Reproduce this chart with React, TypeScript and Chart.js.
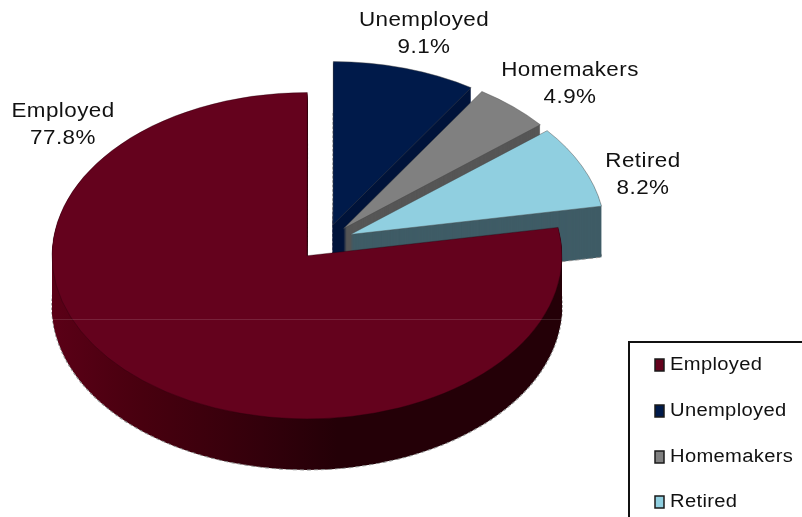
import React, { useEffect, useRef } from "react";
import { Chart, registerables } from "chart.js";

Chart.register(...registerables);

const categories = ["Employed", "Unemployed", "Homemakers", "Retired"];
const shares = [77.8, 9.1, 4.9, 8.2];
const explode = [28, 28, 28, 28];
const faceColors = ["#64021d", "#001a4a", "#808080", "#90cfe0"];
const wallColors = ["#3a0010", "#00133a", "#565656", "#3f5c66"];

// Back-to-front painting order of the slices.
const paintOrder = [1, 2, 3, 0];

const WIDTH = 802;
const HEIGHT = 517;
const PIE_X = 325;
const PIE_Y = 242;
const TILT = 0.64;
const DEPTH = 51;
const FONT = '"Liberation Sans", Arial, sans-serif';
const TEXT_STRETCH = 1.12;

const calloutAnchors = [
  { x: 63, y: 111 },
  { x: 424, y: 20 },
  { x: 570, y: 70 },
  { x: 643, y: 161 },
];
const legendRows = [365, 411, 457, 502];

// Draws text widened horizontally, keeping its anchor point in place.
function wideText(ctx: any, text: string, x: number, y: number) {
  ctx.save();
  ctx.translate(x, y);
  ctx.scale(TEXT_STRETCH, 1);
  ctx.fillText(text, 0, 0);
  ctx.restore();
}

const pie3d = {
  id: "pie3d",
  beforeDatasetDraw(chart: any) {
    const { ctx } = chart;
    const arcs = chart.getDatasetMeta(0).data;
    const paint = (arc: any, index: number, drop: number, overrides: any) => {
      const mid = (arc.startAngle + arc.endAngle) / 2;
      const copy = Object.create(arc);
      copy.options = { ...arc.options, ...overrides };
      ctx.save();
      ctx.translate(PIE_X, PIE_Y + drop);
      ctx.scale(1, TILT);
      ctx.translate(-arc.x, -arc.y);
      ctx.translate(Math.cos(mid) * explode[index], Math.sin(mid) * explode[index]);
      copy.draw(ctx);
      ctx.restore();
    };

    // The big slice's wall darkens from left to right, in arc coordinates.
    const shade = ctx.createLinearGradient(arcs[0].x - 272, 0, arcs[0].x + 30, 0);
    shade.addColorStop(0, "#5e0018");
    shade.addColorStop(0.35, "#48000f");
    shade.addColorStop(0.75, "#33000b");
    shade.addColorStop(1, "#240007");

    paintOrder.forEach((index) => {
      const arc = arcs[index];
      const wall = index === 0 ? shade : wallColors[index];
      paint(arc, index, DEPTH, {
        backgroundColor: wall,
        borderColor: "#8f8f8f",
        borderWidth: 1.5,
        borderDash: [4, 3],
      });
      for (let drop = DEPTH - 1; drop >= 1; drop--) {
        paint(arc, index, drop, { backgroundColor: wall, borderWidth: 0 });
      }
      paint(arc, index, 0, {
        backgroundColor: faceColors[index],
        borderColor: index === 0 ? "rgba(30,0,8,0.4)" : "rgba(70,70,70,0.55)",
        borderWidth: 1,
      });
    });

    // Faint horizontal seam across the big slice.
    ctx.save();
    ctx.strokeStyle = "rgba(255,255,255,0.13)";
    ctx.lineWidth = 1;
    ctx.beginPath();
    ctx.moveTo(53, 319.5);
    ctx.lineTo(562, 319.5);
    ctx.stroke();
    ctx.restore();

    return false;
  },
  afterDraw(chart: any) {
    const { ctx } = chart;
    const values = chart.data.datasets[0].data;
    ctx.save();
    ctx.fillStyle = "#111";
    ctx.textBaseline = "middle";

    // Slice callouts: name over percentage.
    ctx.textAlign = "center";
    ctx.font = `20px ${FONT}`;
    ctx.letterSpacing = "0.4px";
    chart.data.labels.forEach((label: string, i: number) => {
      const { x, y } = calloutAnchors[i];
      wideText(ctx, label, x, y);
      wideText(ctx, `${values[i].toFixed(1)}%`, x, y + 27);
    });

    // Legend box, running off the right and bottom edges.
    ctx.strokeStyle = "#111";
    ctx.lineWidth = 2;
    ctx.beginPath();
    ctx.moveTo(629, HEIGHT);
    ctx.lineTo(629, 342);
    ctx.lineTo(WIDTH, 342);
    ctx.stroke();

    ctx.textAlign = "left";
    ctx.font = `18px ${FONT}`;
    ctx.letterSpacing = "0.3px";
    chart.data.labels.forEach((label: string, i: number) => {
      const y = legendRows[i];
      ctx.fillStyle = faceColors[i];
      ctx.fillRect(655, y - 6, 9, 12);
      ctx.strokeStyle = "#1a1a1a";
      ctx.lineWidth = 1.5;
      ctx.strokeRect(655, y - 6, 9, 12);
      ctx.fillStyle = "#111";
      wideText(ctx, label, 670, y);
    });
    ctx.restore();
  },
};

export default function App() {
  const ref = useRef<HTMLCanvasElement>(null);
  useEffect(() => {
    const chart = new Chart(ref.current as HTMLCanvasElement, {
      type: "pie",
      data: {
        labels: categories,
        datasets: [
          {
            data: shares,
            backgroundColor: faceColors,
            borderWidth: 0,
            radius: 255,
            rotation: 80,
          },
        ],
      },
      options: {
        responsive: false,
        animation: false,
        plugins: { legend: { display: false }, tooltip: { enabled: false } },
      },
      plugins: [pie3d],
    } as any);
    return () => chart.destroy();
  }, []);
  return (
    <div style={{ position: "fixed", left: 0, top: 0, width: WIDTH, height: HEIGHT, background: "#fff" }}>
      <canvas ref={ref} width={WIDTH} height={HEIGHT} style={{ display: "block" }} />
    </div>
  );
}
